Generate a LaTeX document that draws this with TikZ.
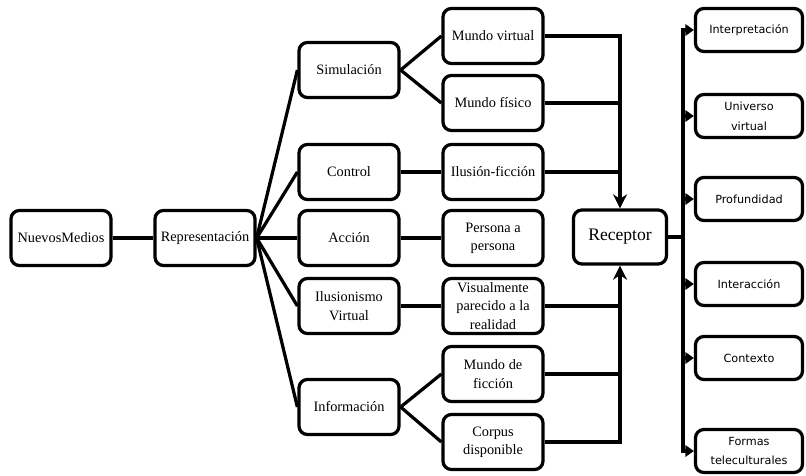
\documentclass[tikz,border=0pt]{standalone}
\usepackage{fontspec}
\setmainfont{Liberation Serif}
\newfontfamily\dejavu{DejaVu Sans}
\usetikzlibrary{arrows.meta}

\begin{document}
\begin{tikzpicture}[x=0.025cm,y=-0.025cm,
  box/.style={draw,line width=2.3pt,rounded corners=6pt,minimum width=2.5cm,
    minimum height=1.375cm,align=center,inner sep=1pt,
    font=\fontsize{10.2}{13}\selectfont},
  rbox/.style={box,minimum width=2.675cm,minimum height=1.075cm,
    font=\dejavu\fontsize{8}{14}\selectfont},
  link/.style={line width=2.3pt},
  into/.style={link,-{Stealth[length=10pt,width=10pt]}},
  feed/.style={link,-{Triangle[length=6pt,width=8pt]}}]
 \useasboundingbox (0,0) rectangle (806,475);
 % left tree
 \node[box] (nm) at (61,238) {NuevosMedios};
 \node[box] (rep) at (205,238) {Representación};
 \node[box] (sim) at (349,70) {Simulación};
 \node[box] (ctl) at (349,172) {Control};
 \node[box] (acc) at (349,238) {Acción};
 \node[box] (ilu) at (349,306) {Ilusionismo\\Virtual};
 \node[box] (inf) at (349,407) {Información};
 \node[box] (mv) at (493,36) {Mundo virtual};
 \node[box] (mf) at (493,103) {Mundo físico};
 \node[box] (if) at (493,172) {Ilusión-ficción};
 \node[box] (pp) at (493,238) {Persona a\\persona};
 \node[box] (vis) at (493,306) {Visualmente\\parecido a la\\realidad};
 \node[box] (mdf) at (493,374) {Mundo de\\ficción};
 \node[box] (cor) at (493,442) {Corpus\\disponible};
 \node[box,minimum width=2.325cm,minimum height=1.35cm,
   font=\fontsize{12.5}{14}\selectfont] (rec) at (620,237) {Receptor};
 % right column
 \node[rbox] (int) at (749,30) {Interpretación};
 \node[rbox] (uni) at (749,116) {Universo\\virtual};
 \node[rbox] (pro) at (749,199) {Profundidad};
 \node[rbox] (inc) at (749,284) {Interacción};
 \node[rbox] (con) at (749,358) {Contexto};
 \node[rbox] (for) at (749,451) {Formas\\teleculturales};
 \coordinate (bus) at (683,237);

 \draw[link] (nm) -- (rep);
 \foreach \t in {sim,ctl,acc,ilu,inf} \draw[link] (rep.east) -- (\t.west);
 \draw[link] (sim.east) -- (mv.west);
 \draw[link] (sim.east) -- (mf.west);
 \draw[link] (ctl) -- (if);
 \draw[link] (acc) -- (pp);
 \draw[link] (ilu) -- (vis);
 \draw[link] (inf.east) -- (mdf.west);
 \draw[link] (inf.east) -- (cor.west);
 % into the receptor
 \draw[into] (mv.east) -| (rec.north);
 \draw[link] (mf.east) -- (mf.east -| rec.north);
 \draw[link] (if.east) -- (if.east -| rec.north);
 \draw[into] (cor.east) -| (rec.south);
 \draw[link] (mdf.east) -- (mdf.east -| rec.south);
 \draw[link] (vis.east) -- (vis.east -| rec.south);
 % out of the receptor
 \draw[link] (rec.east) -- (bus);
 \foreach \t in {int,uni,pro,inc,con,for} \draw[feed] (bus) |- (\t.west);
\end{tikzpicture}
\end{document}
